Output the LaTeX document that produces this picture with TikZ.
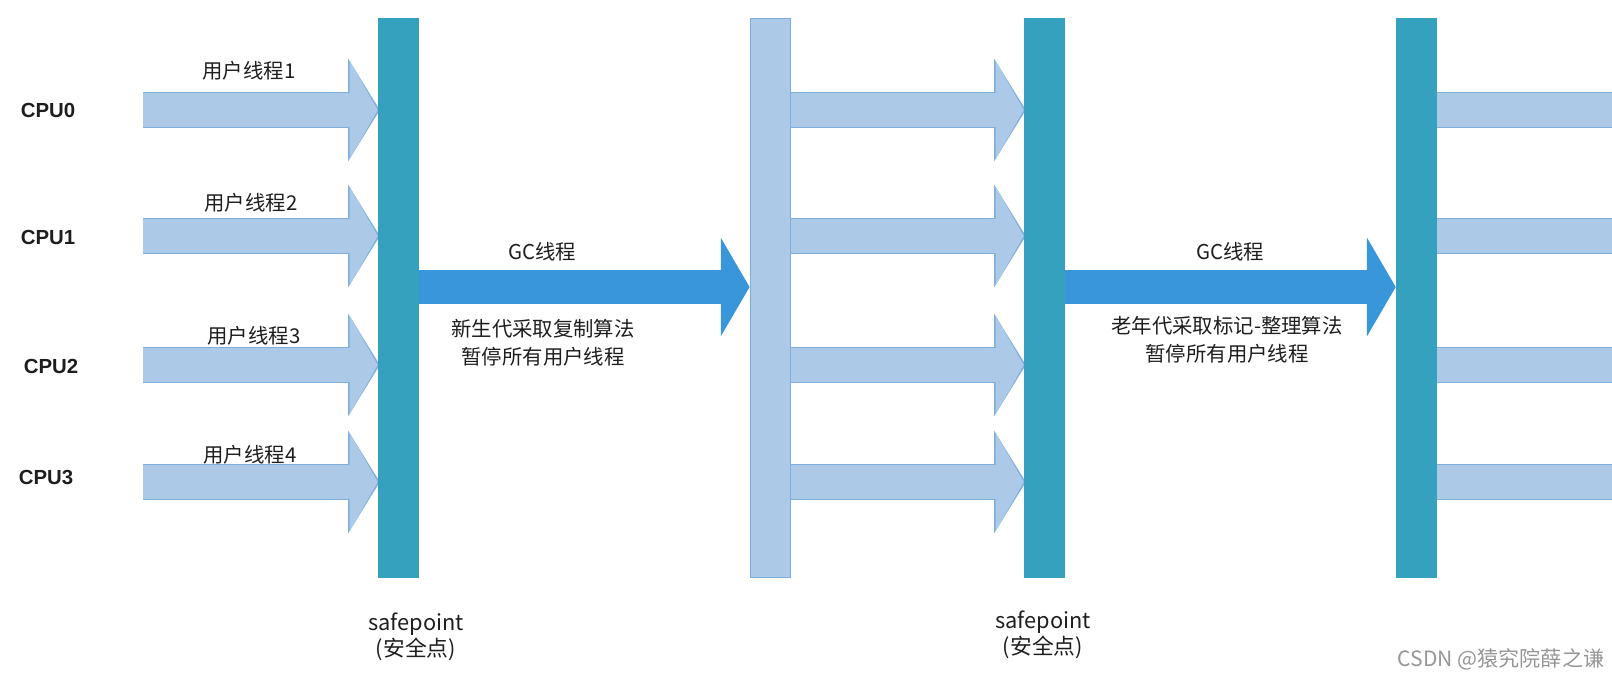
\documentclass[tikz,border=0pt]{standalone}
\usepackage{fontspec}
\setmainfont{Noto Sans CJK SC}
\newfontfamily\cpufont{Liberation Sans}
\usetikzlibrary{arrows.meta,positioning,backgrounds}
\definecolor{spteal}{RGB}{53,161,190}
\definecolor{thfill}{RGB}{173,201,232}
\definecolor{thline}{RGB}{127,174,221}
\definecolor{gcblue}{RGB}{57,150,219}
\definecolor{txt}{RGB}{30,30,30}
\definecolor{wmark}{RGB}{150,150,150}

\begin{document}
\begin{tikzpicture}[x=0.025cm, y=-0.025cm,
	safebar/.style={draw=spteal, fill=spteal, inner sep=0pt, minimum width=1cm, minimum height=13.975cm},
	lightbar/.style={draw=thline, fill=thfill, line width=0.6pt, inner sep=0pt, minimum width=1cm, minimum height=13.975cm},
	thread/.style={draw=thfill, line width=0.85cm, -{Triangle[length=0.7cm, width=2.45cm, line width=0pt]},
		preaction={draw=thline, line width=0.892cm, shorten >=-1.5pt, -{Triangle[length=0.79cm, width=2.556cm, line width=0pt]}}},
	threadbody/.style={draw=thfill, line width=0.85cm, preaction={draw=thline, line width=0.892cm}},
	gcarr/.style={draw=gcblue, line width=0.83cm, -{Triangle[length=0.72cm, width=2.47cm, line width=0pt]}},
	cpu/.style={font=\cpufont\bfseries\fontsize{14.5}{17}\selectfont, text=txt},
	lbl/.style={font=\fontsize{14.5}{20}\selectfont, text=txt, align=center, inner sep=0pt},
	splbl/.style={font=\fontsize{15.5}{18.5}\selectfont, text=txt, align=center, inner sep=0pt}
	]
	\useasboundingbox (0,0) rectangle (1612,682);
	\node[safebar] (sp1) at (398,297.5) {};
	\node[lightbar] (mid) at (770,297.5) {};
	\node[safebar] (sp2) at (1044,297.5) {};
	\node[safebar] (sp3) at (1416,297.5) {};
	\coordinate (r0) at (143,110);
	\coordinate (r1) at (143,236);
	\coordinate (r2) at (143,365);
	\coordinate (r3) at (143,482);
	\coordinate (gc) at (0,287);
	\coordinate (edge) at (1612,0);
	\begin{scope}[on background layer]
		\foreach \r in {r0,r1,r2,r3} {
			\draw[thread] (\r) -- (\r -| sp1.west);
			\draw[thread] (\r -| mid.east) -- (\r -| sp2.west);
			\draw[threadbody] (\r -| sp3.east) -- (\r -| edge);
		}
		\draw[gcarr] (sp1.east |- gc) -- (mid.west |- gc);
		\draw[gcarr] (sp2.east |- gc) -- (sp3.west |- gc);
	\end{scope}
	\node[cpu] (c0) at (48,110) {CPU0};
	\node[cpu] (c1) at (48,237) {CPU1};
	\node[cpu] (c2) at (51,366) {CPU2};
	\node[cpu] (c3) at (46,477) {CPU3};
	\node[lbl] (u0) at (249,71) {用户线程1};
	\node[lbl] (u1) at (251,203) {用户线程2};
	\node[lbl] (u2) at (254,336) {用户线程3};
	\node[lbl] (u3) at (250,455) {用户线程4};
	\node[lbl] (g1) at (542,252) {GC线程};
	\node[lbl] (n1) at (543,343) {新生代采取复制算法\\暂停所有用户线程};
	\node[lbl] (g2) at (1230,252) {GC线程};
	\node[lbl] (n2) at (1227,340) {老年代采取标记-整理算法\\暂停所有用户线程};
	\node[splbl] (s1) at (416,637) {safepoint\\(安全点)};
	\node[splbl] (s2) at (1043,635) {safepoint\\(安全点)};
	\node[lbl, text=wmark, font=\fontsize{15}{18}\selectfont] (wm) at (1501,659) {CSDN @猿究院薛之谦};
\end{tikzpicture}
\end{document}
